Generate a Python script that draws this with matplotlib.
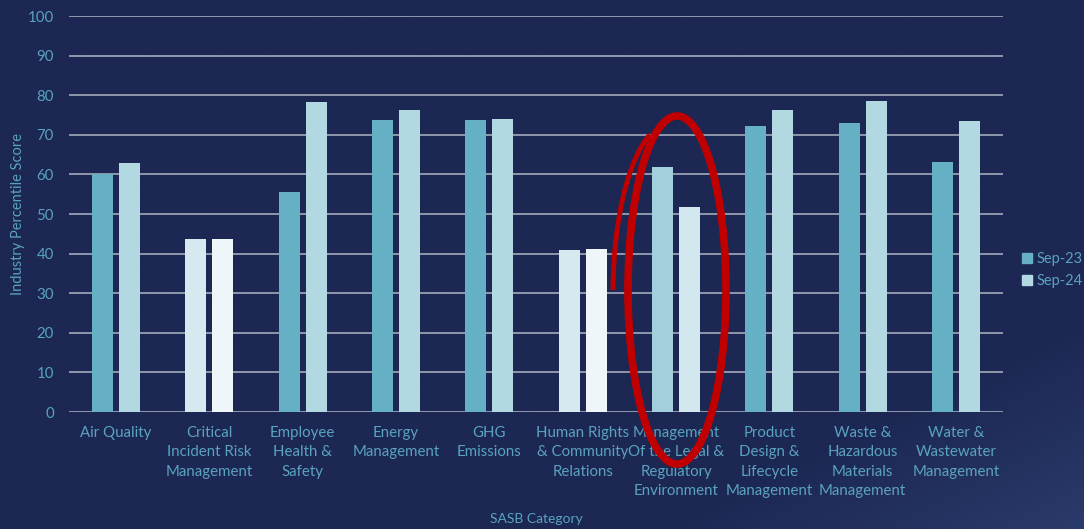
import numpy as np
import matplotlib.pyplot as plt
from matplotlib.colors import LinearSegmentedColormap
from matplotlib.patches import Ellipse, Arc

# Dados do gráfico
categorias = ["Air Quality",
              "Critical\nIncident Risk\nManagement",
              "Employee\nHealth &\nSafety",
              "Energy\nManagement",
              "GHG\nEmissions",
              "Human Rights\n& Community\nRelations",
              "Management\nOf the Legal &\nRegulatory\nEnvironment",
              "Product\nDesign &\nLifecycle\nManagement",
              "Waste &\nHazardous\nMaterials\nManagement",
              "Water &\nWastewater\nManagement"]
sep23 = [60.2, 43.6, 55.6, 73.7, 73.7, 41.0, 61.8, 72.2, 73.0, 63.1]
sep24 = [62.8, 43.6, 78.4, 76.3, 74.0, 41.2, 51.8, 76.2, 78.6, 73.4]
series = ["Sep-23", "Sep-24"]

# Cores por barra
cores23 = ['#66b0c6', '#d6e9f0', '#66b0c6', '#66b0c6', '#66b0c6',
           '#d6e9f0', '#a3cfdc', '#66b0c6', '#66b0c6', '#66b0c6']
cores24 = ['#b2d8e1', '#eff6f9', '#b2d8e1', '#b2d8e1', '#b2d8e1',
           '#eff6f9', '#d2e7ee', '#b2d8e1', '#b2d8e1', '#b2d8e1']

fundo = '#1c2753'
texto = '#5aa3bd'
plt.rcParams['font.family'] = ['Lato', 'DejaVu Sans']

fig = plt.figure(figsize=(10.84, 5.29), dpi=100)
fig.patch.set_facecolor(fundo)

# Fundo com leve gradiente no canto inferior direito
bg = fig.add_axes([0, 0, 1, 1], zorder=-10)
yy, xx = np.mgrid[0:1:200j, 0:1:400j]
grad = np.clip((xx + (1 - yy) - 1.6) / 0.4, 0, 1)
bg.imshow(grad, cmap=LinearSegmentedColormap.from_list('bg', [fundo, '#2a3a6a']),
          extent=[0, 1, 0, 1], aspect='auto', origin='lower')
bg.axis('off')

ax = fig.add_axes([69.3 / 1084, 1 - 412 / 529, 933.4 / 1084, 396 / 529])
ax.set_facecolor('none')

x = np.arange(len(categorias))
larg = 0.225
ax.bar(x - 0.145, sep23, larg, color=cores23, label=series[0], zorder=3)
ax.bar(x + 0.145, sep24, larg, color=cores24, label=series[1], zorder=3)

ax.set_xlim(-0.5, len(categorias) - 0.5)
ax.set_ylim(0, 100)
ax.set_yticks(range(0, 101, 10))
ax.yaxis.grid(True, color='#a3aabb', linewidth=1.2, zorder=1)
ax.set_axisbelow(True)
for s in ax.spines.values():
    s.set_visible(False)
ax.tick_params(length=0, colors=texto, labelsize=10.8)
ax.tick_params(axis='y', pad=11)
ax.tick_params(axis='x', pad=10)
ax.set_xticks(x)
ax.set_xticklabels(categorias, linespacing=1.5)

ax.set_ylabel("Industry Percentile Score", color=texto, fontsize=10.5)
ax.yaxis.set_label_coords(-0.047, 0.5)
ax.set_xlabel("SASB Category", color=texto, fontsize=10)
ax.xaxis.set_label_coords(0.5, -0.255)

# Legenda
leg = fig.legend(loc='center left', bbox_to_anchor=(1022 / 1084, 1 - 270 / 529),
                 frameon=False, fontsize=10.5, labelcolor=texto,
                 handlelength=0.7, handleheight=0.7, handletextpad=0.3,
                 labelspacing=0.55, borderpad=0, borderaxespad=0)
leg.legend_handles[0].set_color('#66b0c6')
leg.legend_handles[1].set_color('#b2d8e1')

# Círculo vermelho desenhado à mão (camada em pixels, eixo y invertido)
ov = fig.add_axes([0, 0, 1, 1], zorder=20)
ov.set_xlim(0, 1084)
ov.set_ylim(529, 0)
ov.axis('off')
ov.patch.set_alpha(0)
ov.add_patch(Ellipse((677, 290), 98, 348, fill=False, edgecolor='#c00000',
                     linewidth=5.5))
ov.add_patch(Arc((672, 292), 118, 340, theta1=182, theta2=262,
                 edgecolor='#c00000', linewidth=3.5))

fig.savefig('out.png', dpi=100, facecolor=fig.get_facecolor())
